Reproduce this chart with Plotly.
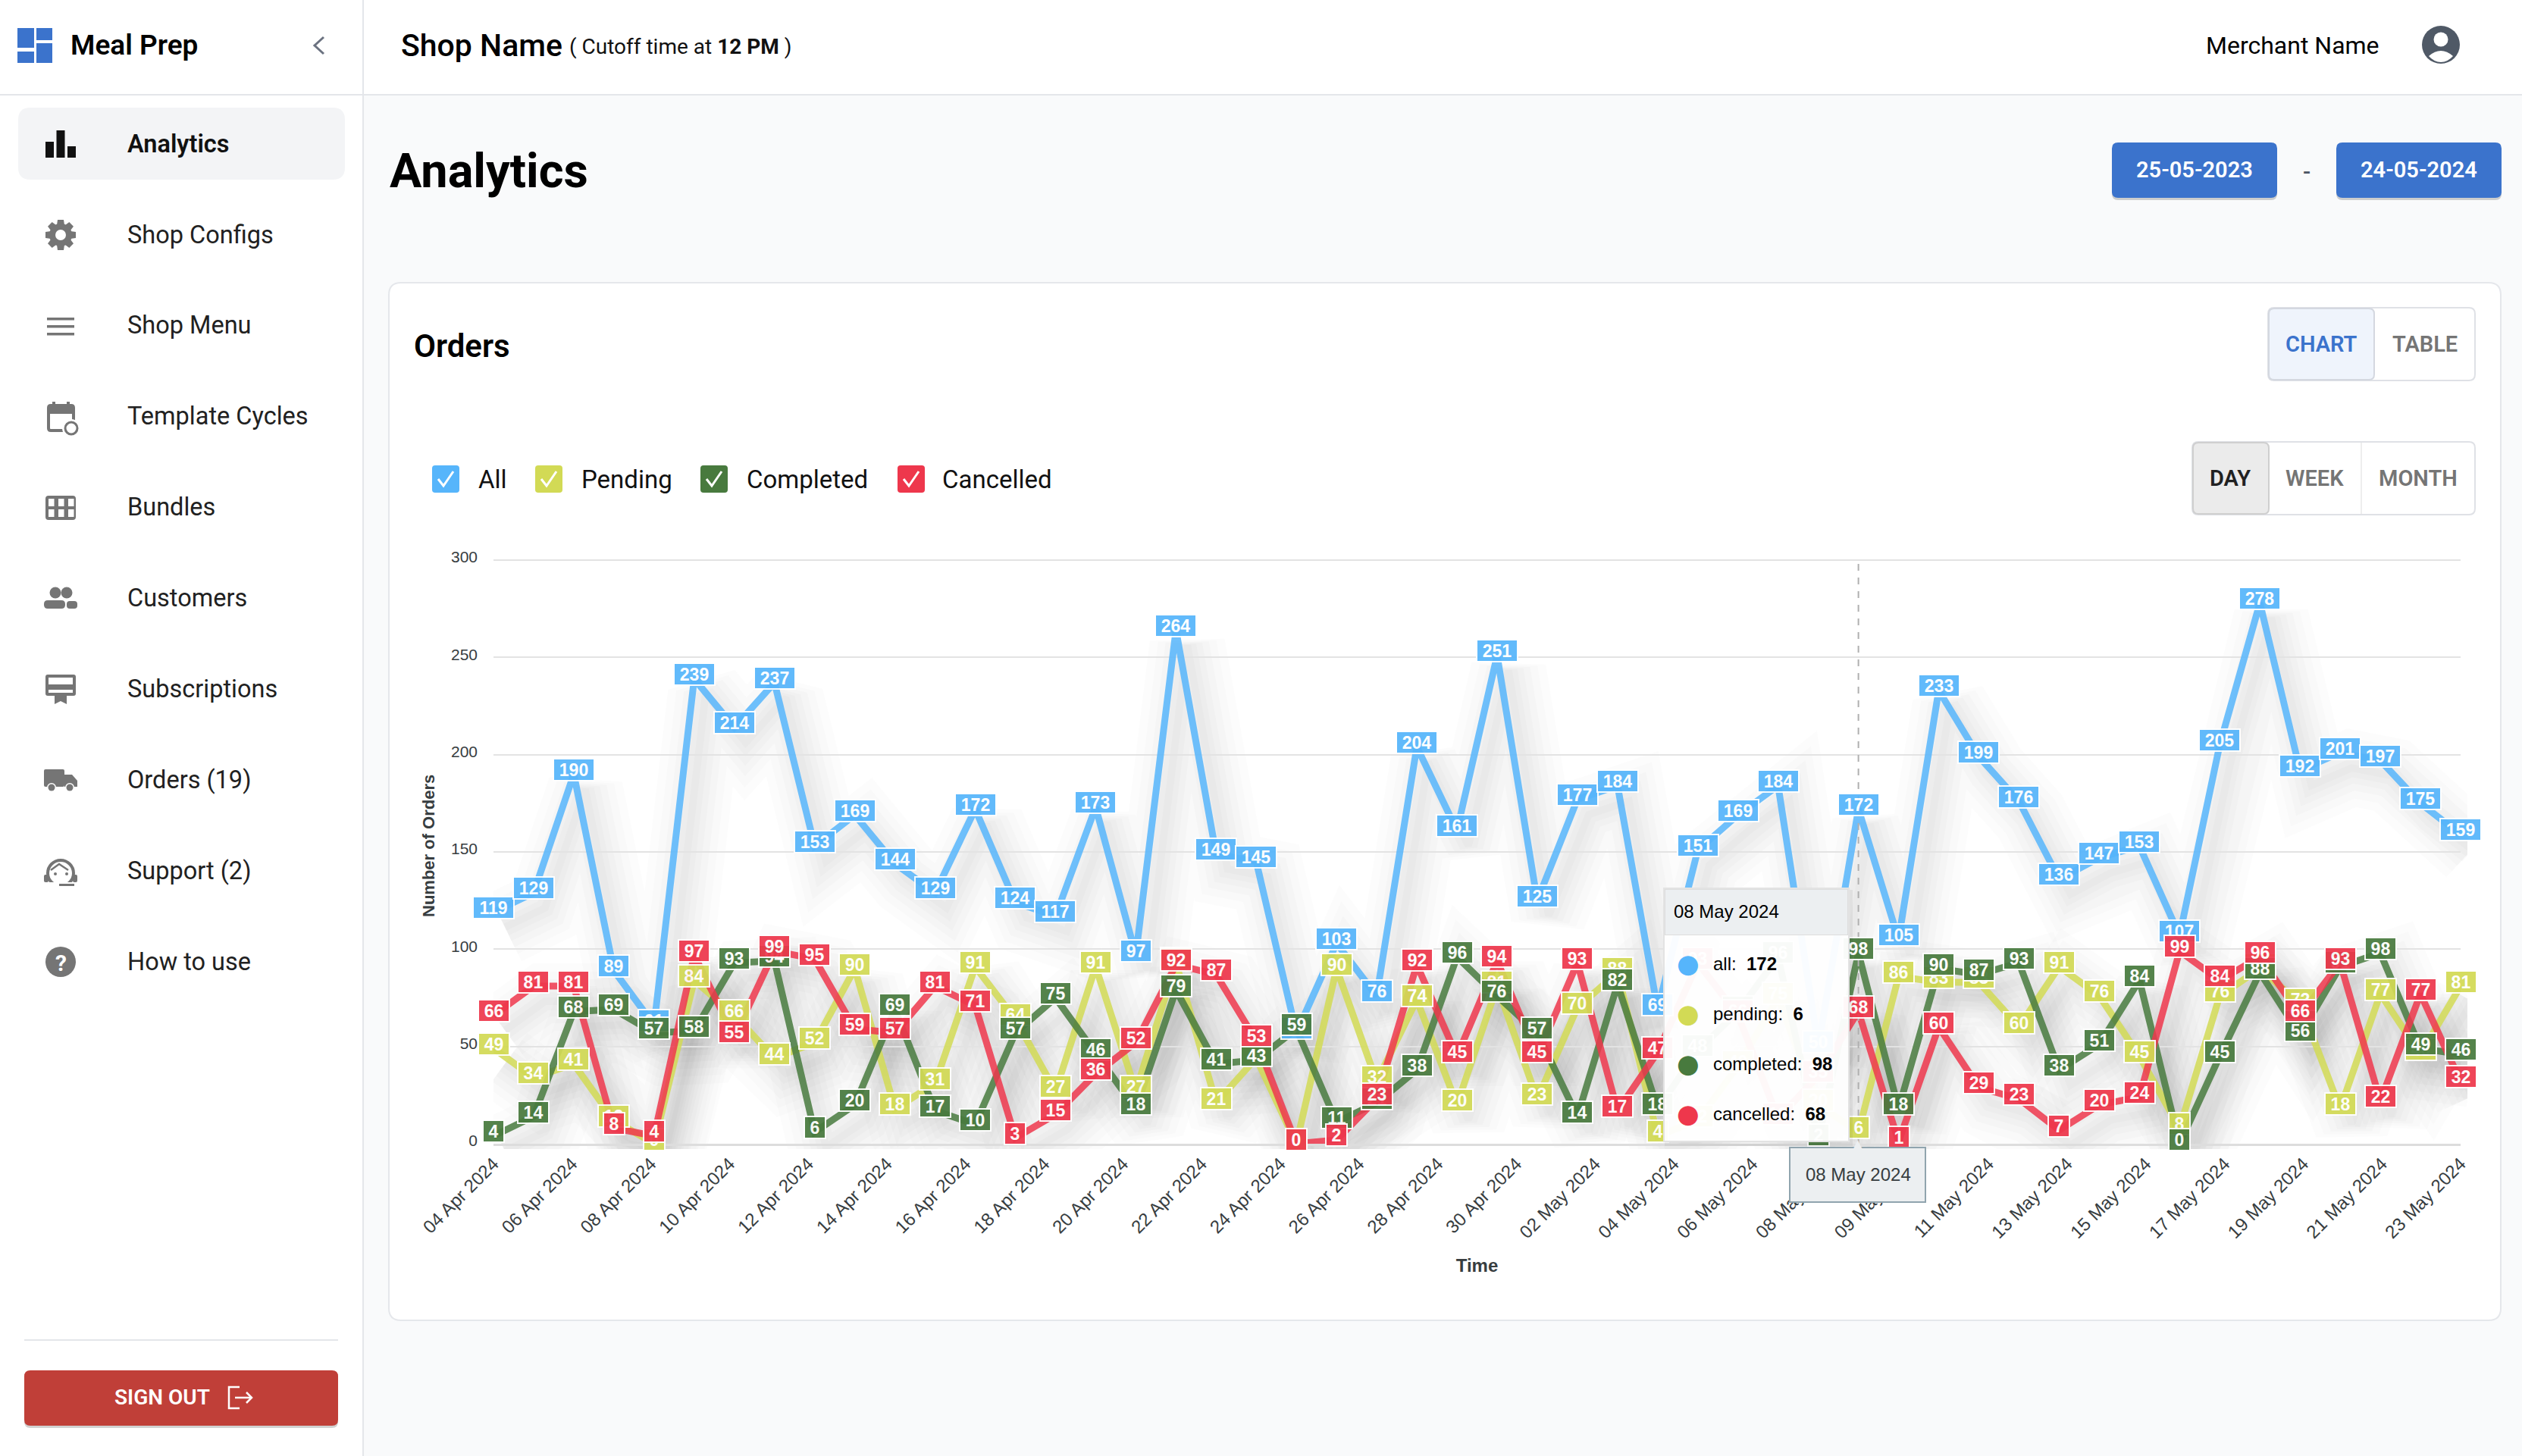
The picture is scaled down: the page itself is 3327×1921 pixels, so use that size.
import math
import pandas as pd
import plotly.graph_objects as go

dates = ["2024-04-04","2024-04-05","2024-04-06","2024-04-07","2024-04-08","2024-04-09","2024-04-10","2024-04-11","2024-04-12","2024-04-13",
         "2024-04-14","2024-04-15","2024-04-16","2024-04-17","2024-04-18","2024-04-19","2024-04-20","2024-04-21","2024-04-22","2024-04-23",
         "2024-04-24","2024-04-25","2024-04-26","2024-04-27","2024-04-28","2024-04-29","2024-04-30","2024-05-01","2024-05-02","2024-05-03",
         "2024-05-04","2024-05-05","2024-05-06","2024-05-07","2024-05-08","2024-05-09","2024-05-10","2024-05-11","2024-05-12","2024-05-13",
         "2024-05-14","2024-05-15","2024-05-16","2024-05-17","2024-05-18","2024-05-19","2024-05-20","2024-05-21","2024-05-22","2024-05-23"]
tick_labels = ["04 Apr 2024","06 Apr 2024","08 Apr 2024","10 Apr 2024","12 Apr 2024","14 Apr 2024","16 Apr 2024","18 Apr 2024","20 Apr 2024",
               "22 Apr 2024","24 Apr 2024","26 Apr 2024","28 Apr 2024","30 Apr 2024","02 May 2024","04 May 2024","06 May 2024","08 May 2024",
               "09 May 2024","11 May 2024","13 May 2024","15 May 2024","17 May 2024","19 May 2024","21 May 2024","23 May 2024"]
all_orders = [119,129,190,89,61,239,214,237,153,169,144,129,172,124,117,173,97,264,149,145,57,103,76,204,161,251,125,177,184,69,
              151,169,184,50,172,105,233,199,176,136,147,153,107,205,278,192,201,197,175,159]
pending = [49,34,41,12,0,84,66,44,52,90,18,31,91,64,27,91,27,93,21,44,0,90,32,74,20,81,23,70,88,4,
           12,40,75,20,6,86,83,83,60,91,76,45,8,76,90,72,18,77,46,81]
completed = [4,14,68,69,57,58,93,94,6,20,69,17,10,57,75,46,18,79,41,43,59,11,21,38,96,76,57,14,82,18,
             48,68,96,2,98,18,90,87,93,38,51,84,0,45,88,56,91,98,49,46]
cancelled = [66,81,81,8,4,97,55,99,95,59,57,81,71,3,15,36,52,92,87,53,0,2,23,92,45,94,45,93,17,47,
             93,66,13,35,68,1,60,29,23,7,20,24,99,84,96,66,93,22,77,32]
series_names = ["all","pending","completed","cancelled"]
legend_names = ["All","Pending","Completed","Cancelled"]
series_values = [all_orders,pending,completed,cancelled]
series_rgb = [(86,181,251),(210,218,85),(72,122,62),(238,55,76)]
y_ticks = [0,50,100,150,200,250,300]
nav_items = ["Analytics","Shop Configs","Shop Menu","Template Cycles","Bundles","Customers","Subscriptions","Orders (19)","Support (2)","How to use"]
tooltip_index = 34

W, H = 3327, 1921
PX0, PX1, PY300, PY0 = 651, 3246, 739, 1509
CLIP_R, CLIP_B = 3255, 1516
SH_DX, SH_DY = 15, 20
BLUE = "#3b73cc"; GRAY = "#757575"; LINE = "#e5e7eb"

def fx(x): return x / W
def fy(y): return 1 - y / H
def hexa(rgb, a): return f"rgba({rgb[0]},{rgb[1]},{rgb[2]},{a})"

shapes, notes = [], []

def pstyle(fill, line, lw):
    return dict(fillcolor=fill or "rgba(0,0,0,0)", line=dict(color=line or "rgba(0,0,0,0)", width=lw), layer="below", xref="paper", yref="paper", type="path")

def rrect(x0, y0, x1, y1, r=0, fill=None, line=None, lw=0):
    c = lambda x, y: f"{fx(x):.6f},{fy(y):.6f}"
    if r > 0:
        d = (f"M {c(x0+r,y0)} L {c(x1-r,y0)} Q {c(x1,y0)} {c(x1,y0+r)} L {c(x1,y1-r)} Q {c(x1,y1)} {c(x1-r,y1)} "
             f"L {c(x0+r,y1)} Q {c(x0,y1)} {c(x0,y1-r)} L {c(x0,y0+r)} Q {c(x0,y0)} {c(x0+r,y0)} Z")
    else:
        d = f"M {c(x0,y0)} L {c(x1,y0)} L {c(x1,y1)} L {c(x0,y1)} Z"
    shapes.append(dict(path=d, **pstyle(fill, line, lw)))

def poly(pts, fill=None, line=None, lw=0, close=True):
    d = "M " + " L ".join(f"{fx(x):.6f},{fy(y):.6f}" for x, y in pts) + (" Z" if close else "")
    shapes.append(dict(path=d, **pstyle(fill, line, lw)))

def circ(cx, cy, r, fill=None, line=None, lw=0):
    shapes.append(dict(type="circle", xref="paper", yref="paper", layer="below", x0=fx(cx-r), x1=fx(cx+r), y0=fy(cy+r), y1=fy(cy-r),
                       fillcolor=fill or "rgba(0,0,0,0)", line=dict(color=line or "rgba(0,0,0,0)", width=lw)))

def text(x, y, s, size, color="#212121", weight=400, anchor="left", family="Roboto", angle=0):
    notes.append(dict(x=fx(x), y=fy(y), xref="paper", yref="paper", text=s, showarrow=False, xanchor=anchor, yanchor="middle", textangle=angle,
                      font=dict(size=size, color=color, family=family, weight=weight), borderpad=0))

def box(x0, y0, x1, y1, fill, border=None, bw=0):
    notes.append(dict(x=fx(x0), y=fy(y0), xref="paper", yref="paper", text="\u00a0", showarrow=False, xanchor="left", yanchor="top",
                      width=x1-x0-2*bw, height=y1-y0-2*bw, bgcolor=fill, bordercolor=border or "rgba(0,0,0,0)", borderwidth=bw, borderpad=0,
                      font=dict(size=4)))

# page chrome
shapes.append(dict(type="rect", xref="paper", yref="paper", layer="below", x0=0, x1=1, y0=0, y1=1, fillcolor="#f9fafb", line=dict(width=0)))
rrect(0, 0, 479, H, 0, "#ffffff")
rrect(0, 0, W, 124, 0, "#ffffff")
rrect(0, 124, W, 126, 0, "#e4e6ea")
rrect(478, 0, 480, H, 0, "#e4e6ea")
# logo
for a in [(23,37,45,63),(48,37,69,53),(23,68,45,83),(48,57,69,83)]:
    rrect(*a, 0, BLUE)
text(92, 60, "Meal Prep", 37, "#000000", 600)
poly([(427,49),(415,60),(427,71)], None, "#6b7280", 3, close=False)
text(528, 60, "Shop Name", 41, "#000000", 500)
notes.append(dict(x=fx(749), y=fy(62), xref="paper", yref="paper", showarrow=False, xanchor="left", yanchor="middle",
                  text="( Cutoff time at <b>12 PM</b> )", font=dict(size=28, color="#111111", family="Roboto")))
text(2909, 60, "Merchant Name", 32, "#000000")
circ(3220, 59, 25, "#4f5966")
circ(3220, 52, 9.5, "#ffffff")
shapes.append(dict(path=f"M {fx(3204):.6f},{fy(74):.6f} Q {fx(3220):.6f},{fy(60):.6f} {fx(3236):.6f},{fy(74):.6f} Q {fx(3229):.6f},{fy(82):.6f} {fx(3220):.6f},{fy(82):.6f} Q {fx(3211):.6f},{fy(82):.6f} {fx(3204):.6f},{fy(74):.6f} Z",
                   **pstyle("#ffffff", None, 0)))
# sidebar
rrect(24, 142, 455, 237, 16, "#f3f4f6")
nav_y = [190,310,429,549,669,789,909,1029,1149,1269]
for i, (name, y) in enumerate(zip(nav_items, nav_y)):
    text(167, y, name, 32.5, "#111111" if i == 0 else "#212121", 600 if i == 0 else 400)
# icons
for a in [(60,187,71,208),(74.5,172,85.5,208),(89,193,100,208)]:
    rrect(*a, 0, "#111111")
cx, cy = 80, 310
for k in range(8):
    t = k * math.pi / 4
    u, v = math.cos(t), math.sin(t)
    pts = [(-5,13),(5,13),(4,20),(-4,20)]
    poly([(cx + px*u - py*v, cy + px*v + py*u) for px, py in pts], GRAY)
circ(cx, cy, 15, GRAY); circ(cx, cy, 7, "#ffffff")
for y in (419, 429, 439):
    rrect(62, y, 98, y+3.5, 0, GRAY)
rrect(64, 535, 97, 568, 3, None, GRAY, 4); rrect(64, 535, 97, 546, 2, GRAY)
rrect(69, 530, 73, 536, 0, GRAY); rrect(88, 530, 92, 536, 0, GRAY)
circ(94, 565, 12, "#ffffff"); circ(94, 565, 8, None, GRAY, 3)
rrect(60, 654, 100, 686, 4, GRAY)
for cxx in (64, 77, 90):
    for cyy in (658, 672):
        rrect(cxx, cyy, cxx+7.5, cyy+10, 0, "#ffffff")
circ(73, 782, 7.5, GRAY); circ(88, 782, 7.5, GRAY)
rrect(58, 792, 86, 803, 5, GRAY); rrect(88, 793, 102, 803, 4, GRAY)
rrect(60, 890, 100, 918, 3, GRAY); rrect(64, 894, 96, 903, 0, "#ffffff"); rrect(64, 910, 96, 914, 0, "#ffffff")
poly([(72,918),(88,918),(88,929),(80,925),(72,929)], GRAY)
rrect(58, 1015, 85, 1038, 2, GRAY)
poly([(85,1022),(95,1022),(102,1030),(102,1038),(85,1038)], GRAY)
for wx in (68, 92):
    circ(wx, 1039, 6, "#ffffff"); circ(wx, 1039, 4.5, GRAY); 
circ(80, 1152, 17, None, GRAY, 4)
rrect(58, 1154, 64, 1164, 2, GRAY); rrect(96, 1154, 102, 1164, 2, GRAY)
rrect(60, 1164, 100, 1172, 0, "#ffffff"); rrect(78, 1166, 98, 1169, 0, GRAY)
poly([(67,1148),(78,1140),(90,1148)], None, GRAY, 2.5, close=False)
circ(73, 1153, 2, GRAY); circ(88, 1153, 2, GRAY)
circ(80, 1269, 20, GRAY)
text(80, 1270, "?", 30, "#ffffff", 700, "center")
rrect(32, 1767, 446, 1769, 0, "#e4e6ea")
rrect(32, 1810, 446, 1884, 8, "rgba(0,0,0,0.18)")
rrect(32, 1808, 446, 1881, 8, "#c03f38")
text(214, 1843, "SIGN OUT", 28, "#ffffff", 600, "center")
poly([(316,1830),(302,1830),(302,1858),(316,1858)], None, "#ffffff", 2.5, close=False)
poly([(310,1844),(332,1844)], None, "#ffffff", 2.5, close=False)
poly([(325,1837),(332,1844),(325,1851)], None, "#ffffff", 2.5, close=False)
# heading and buttons
text(513, 225, "Analytics", 63, "#000000", 700)
for x0, x1, s in [(2786, 3004, "25-05-2023"), (3082, 3300, "24-05-2024")]:
    rrect(x0, 191, x1, 264, 8, "rgba(0,0,0,0.18)")
    rrect(x0, 188, x1, 261, 8, BLUE)
    text((x0+x1)/2, 224, s, 29, "#ffffff", 600, "center")
text(3043, 226, "-", 30, "#4b5563", 500, "center")
# panel
rrect(513, 373, 3299, 1742, 16, "#ffffff", "#e5e7eb", 2)
text(545, 456, "Orders", 42, "#000000", 600)
rrect(2992, 406, 3265, 502, 8, "#ffffff", "#dfe1e6", 2)
rrect(2993, 407, 3132, 501, 7, "#eff4fc", "#d4d8e0", 2)
text(3062, 454, "CHART", 29, BLUE, 600, "center")
text(3199, 454, "TABLE", 29, GRAY, 600, "center")
rrect(2892, 583, 3265, 679, 8, "#ffffff", "#dfe1e6", 2)
rrect(2893, 584, 2993, 678, 7, "#ebebeb", "#cfcfcf", 2)
rrect(3114.5, 584, 3115.5, 678, 0, "#dcdcdc")
text(2942, 631, "DAY", 29, "#212121", 600, "center")
text(3053, 631, "WEEK", 29, GRAY, 600, "center")
text(3190, 631, "MONTH", 29, GRAY, 600, "center")
# check legend
for name, rgb, bx, tx in zip(legend_names, series_rgb, [570, 706, 924, 1184], [630, 766, 984, 1242]):
    rrect(bx, 614, bx+36, 650, 4, f"rgb{rgb}")
    poly([(bx+8, 632), (bx+15, 641), (bx+28, 622)], None, "#ffffff", 3, close=False)
    text(tx, 632, name, 33, "#111111")

# chart
step = (PX1 - PX0) / (len(dates) - 1)
t0 = pd.Timestamp(dates[0])
def day_at(i): return (t0 + pd.Timedelta(days=float(i))).isoformat()
px_per_unit = (PY0 - PY300) / 300
tick_vals = [day_at(k * (len(dates)-1) / (len(tick_labels)-1)) for k in range(len(tick_labels))]

fig = go.Figure()
for name, vals in zip(series_names, series_values):
    for w, a in [(10,.016),(24,.016),(40,.016),(58,.014),(78,.012),(100,.01)]:
        fig.add_trace(go.Scatter(x=dates, y=vals, mode="lines", name=name+" shadow", xaxis="x", yaxis="y",
                                 line=dict(color=f"rgba(0,0,0,{a})", width=w), hoverinfo="skip", showlegend=False))
for name, vals, rgb in zip(series_names, series_values, series_rgb):
    fig.add_trace(go.Scatter(x=dates, y=vals, mode="lines", name=name, xaxis="x2", yaxis="y2", cliponaxis=False,
                             line=dict(color=hexa(rgb, .85), width=9), showlegend=False))

# crosshair
shapes.append(dict(type="line", xref="x2", yref="y2", x0=dates[tooltip_index], x1=dates[tooltip_index], y0=0, y1=300, layer="above",
                   line=dict(color="#b0b0b0", width=2, dash="dash")))

# data labels
widths = {1: 26, 2: 39, 3: 52}
for vals, rgb in zip(series_values, series_rgb):
    for d, v in zip(dates, vals):
        s = str(v)
        notes.append(dict(x=d, y=v, xref="x2", yref="y2", text=s, showarrow=False, yshift=6, xanchor="center", yanchor="middle",
                          width=widths[len(s)], height=27, bgcolor=f"rgb{rgb}", bordercolor="#ffffff", borderwidth=2, borderpad=0, opacity=.93,
                          font=dict(size=23, color="#ffffff", family="Liberation Sans", weight=700)))

text(565, 1116, "Number of Orders", 22, "#373d3f", 700, "center", "Liberation Sans", -90)

# tooltip
box(2196, 1174, 2444, 1512, "rgba(0,0,0,0.05)")
box(2194, 1171, 2440, 1507, "rgba(255,255,255,0.96)", "#e3e3e3", 2)
box(2196, 1173, 2438, 1234, "#eceff1", "#dddddd", 1)
text(2207, 1202, "08 May 2024", 24, "#000000", family="Liberation Sans")
for name, vals, rgb, y in zip(series_names, series_values, series_rgb, [1271,1337,1403,1469]):
    text(2227, y, "\u25cf", 34, f"rgb{rgb}", 400, "center", "DejaVu Sans")
    text(2259, y, f"{name}:\u00a0\u00a0<b>{vals[tooltip_index]}</b>", 24, "#000000", family="Liberation Sans")
box(2360, 1513, 2541, 1587, "#eceff1", "#90a4ae", 2)
text(2451, 1510, "\u25b2", 20, "#eceff1", 400, "center", "DejaVu Sans")
text(2451, 1549, "08 May 2024", 24, "#373d3f", 400, "center", "Liberation Sans")

PY_TOP = PY300 - 5
fig.update_layout(
    width=W, height=H, autosize=False, margin=dict(l=0, r=0, t=0, b=0, pad=0),
    paper_bgcolor="#f9fafb", plot_bgcolor="rgba(0,0,0,0)", showlegend=False, hovermode=False,
    shapes=shapes, annotations=notes,
    xaxis=dict(domain=[fx(PX0), fx(CLIP_R)], range=[day_at(-SH_DX/step), day_at((CLIP_R-PX0-SH_DX)/step)], visible=False, type="date"),
    yaxis=dict(domain=[fy(CLIP_B), fy(PY300)], range=[(PY0+SH_DY-CLIP_B)/px_per_unit, (PY0+SH_DY-PY300)/px_per_unit], visible=False),
    xaxis2=dict(domain=[fx(PX0), fx(PX1)], range=[dates[0], dates[-1]], type="date", anchor="y2", tickmode="array", tickvals=tick_vals, ticktext=tick_labels,
                tickangle=-45, tickfont=dict(size=24, color="#373d3f", family="Liberation Sans"), showgrid=False, zeroline=False,
                showline=True, linecolor="#dddddd", linewidth=3, ticks="", ticklabelstandoff=0,
                title=dict(text="Time", font=dict(size=24, color="#373d3f", family="Liberation Sans", weight=700), standoff=24), automargin=False),
    yaxis2=dict(domain=[fy(PY0), fy(PY_TOP)], range=[0, (PY0-PY_TOP)/px_per_unit], anchor="x2", tickmode="array", tickvals=y_ticks,
                tickfont=dict(size=21, color="#373d3f", family="Liberation Sans"), showgrid=True, gridcolor="#e3e3e3", gridwidth=2, zeroline=False,
                ticks="", ticklabelstandoff=20, ticklabelshift=-4, automargin=False),
)
fig.write_html("out.html", config=dict(displayModeBar=False),
               post_script="document.body.style.margin='0';document.body.style.overflow='hidden';")
